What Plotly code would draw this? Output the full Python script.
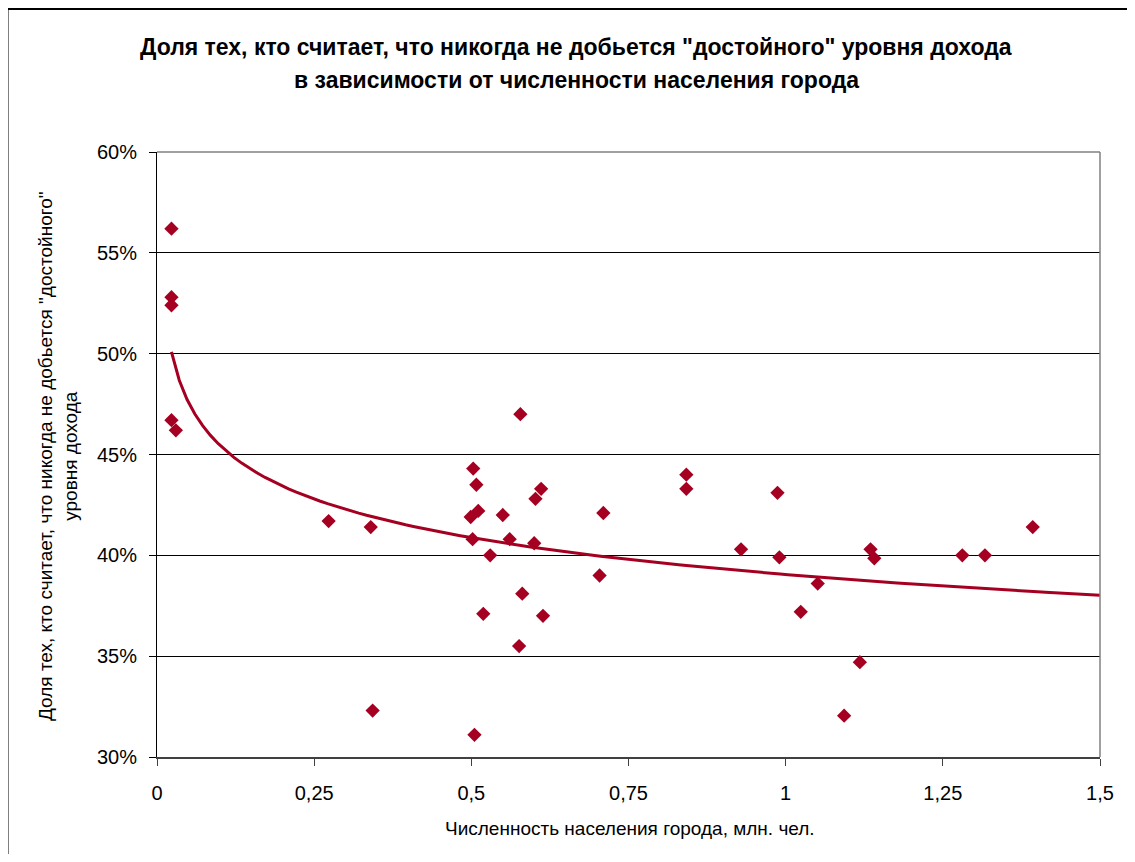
import numpy as np
import plotly.graph_objects as go

# City population, mln
POP = [0.023, 0.023, 0.023, 0.023, 0.030,
       0.273, 0.340, 0.343,
       0.503, 0.508, 0.511, 0.499, 0.502, 0.505, 0.519, 0.530, 0.550, 0.561,
       0.576, 0.578, 0.581, 0.600, 0.602, 0.611, 0.614,
       0.704, 0.710, 0.842, 0.842, 0.929, 0.987, 0.990,
       1.024, 1.051, 1.093, 1.118, 1.135, 1.141,
       1.281, 1.317, 1.393]
# Share of those who think they will never reach a "decent" income, %
SHARE = [56.2, 52.8, 52.4, 46.7, 46.2,
         41.7, 41.4, 32.3,
         44.3, 43.5, 42.2, 41.9, 40.8, 31.1, 37.1, 40.0, 42.0, 40.8,
         35.5, 47.0, 38.1, 40.6, 42.8, 43.3, 37.0,
         39.0, 42.1, 44.0, 43.3, 40.3, 43.1, 39.9,
         37.2, 38.6, 32.05, 34.7, 40.3, 39.85,
         40.0, 40.0, 41.4]

# Power trend line y = A * x^B (parameters)
TREND_A = 39.05
TREND_B = -0.066

X_TICKS = [0, 0.25, 0.5, 0.75, 1, 1.25, 1.5]
X_TICKTEXT = ["0", "0,25", "0,5", "0,75", "1", "1,25", "1,5"]
Y_TICKS = [30, 35, 40, 45, 50, 55, 60]
Y_TICKTEXT = ["30%", "35%", "40%", "45%", "50%", "55%", "60%"]

TITLE_1 = 'Доля тех, кто считает, что никогда не добьется "достойного" уровня дохода'
TITLE_2 = 'в зависимости от численности населения города'
X_TITLE = 'Численность населения города, млн. чел.'
Y_TITLE = 'Доля тех, кто считает, что никогда не добьется "достойного"<br>уровня дохода'

RED = "#A50021"
FONT = "Liberation Sans, Arial, sans-serif"

trend_x = np.linspace(min(POP), X_TICKS[-1], 120)
trend_y = TREND_A * trend_x ** TREND_B

fig = go.Figure()
fig.add_trace(go.Scatter(x=POP, y=SHARE, mode="markers",
                         marker=dict(symbol="diamond", size=11, color=RED),
                         showlegend=False))
fig.add_trace(go.Scatter(x=trend_x, y=trend_y, mode="lines",
                         line=dict(color=RED, width=3), showlegend=False))

OFF = 8  # page body margin
W, H = 1135 - 2 * OFF, 862 - 2 * OFF
L, T = 157 - OFF, 152 - OFF
pw, ph = 943, 605
R = W - L - pw
B = H - T - ph

def px(xs):
    return (xs - OFF - L) / pw

def py(ys):
    return (T + ph - (ys - OFF)) / ph

fig.update_layout(
    width=W, height=H,
    margin=dict(l=L, r=R, t=T, b=B),
    paper_bgcolor="white", plot_bgcolor="white",
    font=dict(family=FONT, color="black"),
    xaxis=dict(range=[0, 1.5], tickvals=X_TICKS, ticktext=X_TICKTEXT,
               showgrid=False, zeroline=False, showline=True,
               linecolor="#404040", linewidth=2, ticks="outside",
               ticklen=7, tickcolor="#404040", tickwidth=1,
               tickfont=dict(size=20, family=FONT, color="black"),
               ticklabelstandoff=10),
    yaxis=dict(range=[30, 60], tickvals=Y_TICKS, ticktext=Y_TICKTEXT,
               showgrid=True, gridcolor="black", gridwidth=1,
               zeroline=False, showline=True, linecolor="black",
               linewidth=1, ticks="outside", ticklen=7, tickcolor="black",
               tickfont=dict(size=20, family=FONT, color="black"),
               ticklabelstandoff=8),
    shapes=[
        dict(type="line", xref="paper", yref="paper", x0=0, x1=1, y0=1, y1=1,
             line=dict(color="#808080", width=1.5)),
        dict(type="line", xref="paper", yref="paper", x0=1, x1=1, y0=0, y1=1,
             line=dict(color="#808080", width=1.5)),
        # outer chart frame (only its left and top sides are in view)
        dict(type="line", xref="paper", yref="paper",
             x0=px(7.5), x1=px(1300), y0=py(9), y1=py(9),
             line=dict(color="black", width=2)),
        dict(type="line", xref="paper", yref="paper",
             x0=px(7.5), x1=px(7.5), y0=py(8), y1=py(1000),
             line=dict(color="black", width=2)),
    ],
    annotations=[
        dict(text="<b>%s</b>" % TITLE_1, xref="paper", yref="paper",
             x=px(576), y=py(47), xanchor="center", yanchor="middle",
             showarrow=False, font=dict(size=23, family=FONT)),
        dict(text="<b>%s</b>" % TITLE_2, xref="paper", yref="paper",
             x=px(576), y=py(80), xanchor="center", yanchor="middle",
             showarrow=False, font=dict(size=23, family=FONT)),
        dict(text=X_TITLE, xref="paper", yref="paper",
             x=px(630), y=py(828), xanchor="center", yanchor="middle",
             showarrow=False, font=dict(size=19, family=FONT)),
        dict(text=Y_TITLE, xref="paper", yref="paper", textangle=-90,
             x=px(58), y=py(456), xanchor="center", yanchor="middle",
             showarrow=False, font=dict(size=19, family=FONT)),
    ],
)

fig.write_html("out.html")
